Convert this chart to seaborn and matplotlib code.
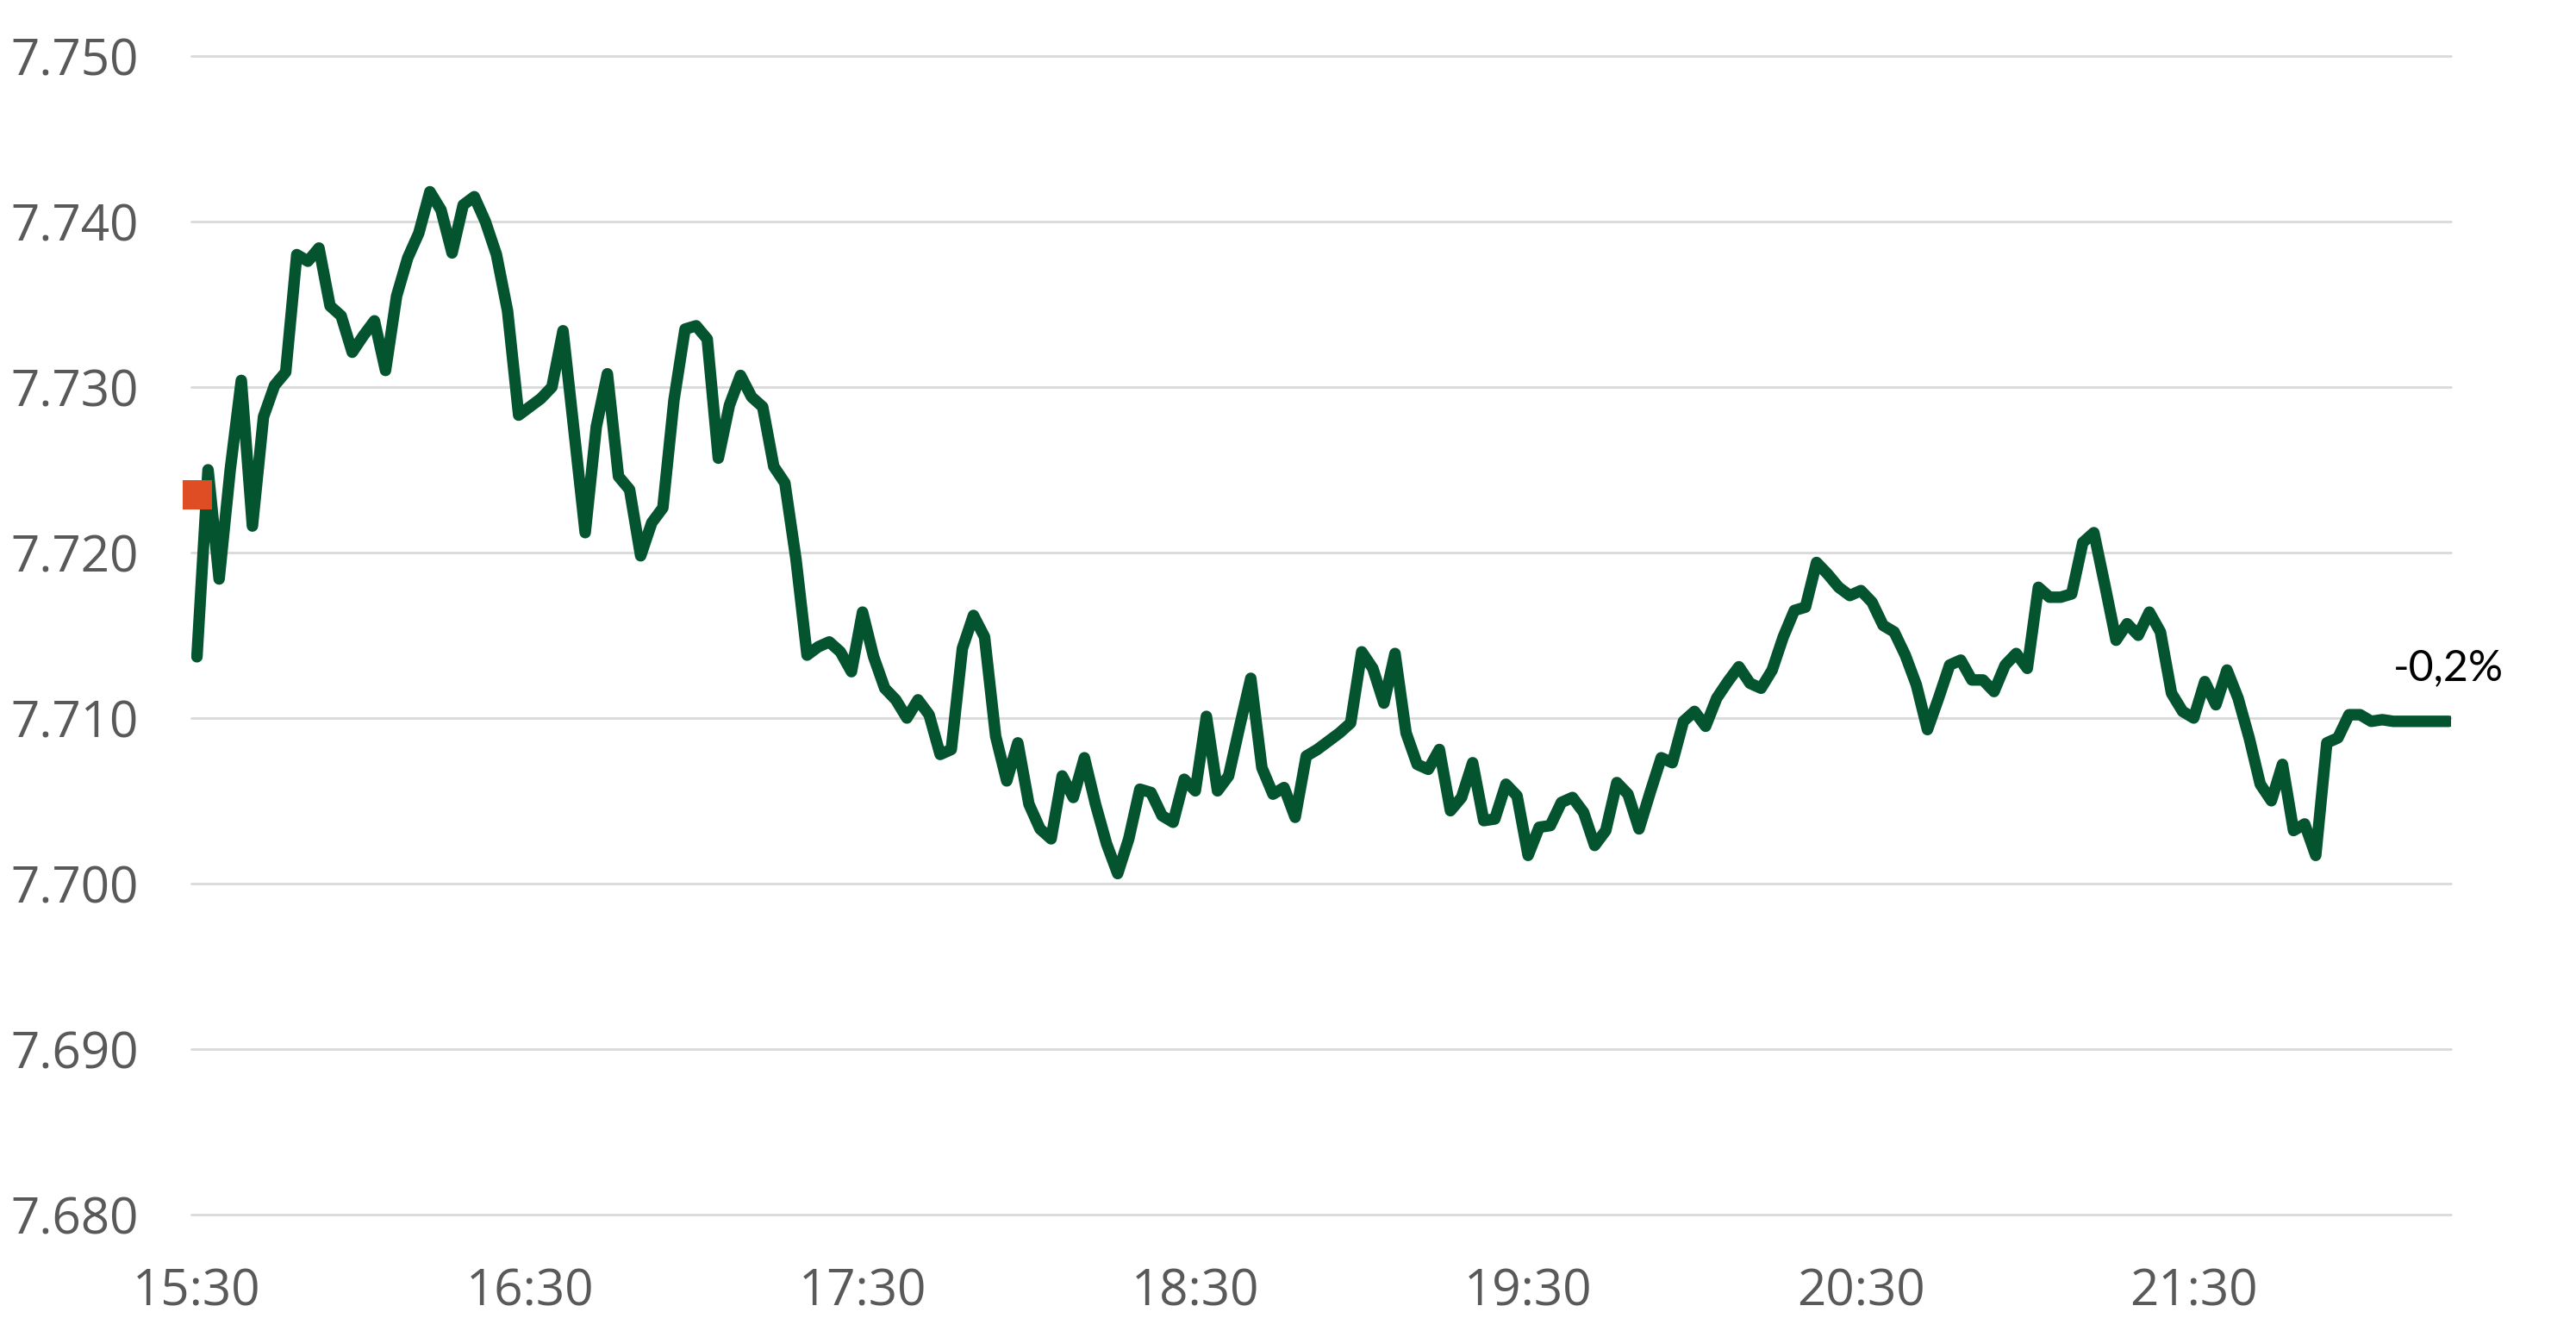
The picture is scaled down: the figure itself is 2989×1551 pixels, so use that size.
import numpy as np
import pandas as pd
import matplotlib
matplotlib.use("Agg")
import matplotlib.pyplot as plt
import matplotlib.dates as mdates
import seaborn as sns

# ---- data (2-minute prices from 15:30) ----
values = [
    7.7137, 7.7250, 7.7184, 7.7250, 7.7304, 7.7216, 7.7282, 7.7301, 7.7309, 7.7380,
    7.7376, 7.7384, 7.7349, 7.7343, 7.7321, 7.7331, 7.7340, 7.7310, 7.7355, 7.7378,
    7.7393, 7.7418, 7.7407, 7.7381, 7.7410, 7.7415, 7.7400, 7.7380, 7.7346, 7.7283,
    7.7288, 7.7293, 7.7300, 7.7334, 7.7273, 7.7212, 7.7276, 7.7308, 7.7246, 7.7238,
    7.7198, 7.7218, 7.7227, 7.7292, 7.7335, 7.7337, 7.7329, 7.7257, 7.7289, 7.7307,
    7.7294, 7.7288, 7.7252, 7.7242, 7.7196, 7.7138, 7.7143, 7.7146, 7.7140, 7.7128,
    7.7164, 7.7137, 7.7118, 7.7111, 7.7100, 7.7111, 7.7102, 7.7078, 7.7081, 7.7142,
    7.7162, 7.7149, 7.7089, 7.7062, 7.7085, 7.7048, 7.7033, 7.7027, 7.7065, 7.7052,
    7.7076, 7.7048, 7.7024, 7.7006, 7.7027, 7.7057, 7.7055, 7.7041, 7.7037, 7.7063,
    7.7056, 7.7101, 7.7056, 7.7065, 7.7095, 7.7124, 7.7070, 7.7054, 7.7058, 7.7040,
    7.7077, 7.7081, 7.7086, 7.7091, 7.7097, 7.7140, 7.7130, 7.7109, 7.7139, 7.7091,
    7.7072, 7.7069, 7.7081, 7.7044, 7.7052, 7.7073, 7.7038, 7.7039, 7.7060, 7.7053,
    7.7017, 7.7034, 7.7035, 7.7049, 7.7052, 7.7043, 7.7023, 7.7032, 7.7061, 7.7054,
    7.7033, 7.7055, 7.7076, 7.7073, 7.7098, 7.7104, 7.7095, 7.7112, 7.7122, 7.7131,
    7.7121, 7.7118, 7.7129, 7.7149, 7.7165, 7.7167, 7.7194, 7.7187, 7.7179, 7.7174,
    7.7177, 7.7170, 7.7156, 7.7152, 7.7138, 7.7120, 7.7093, 7.7112, 7.7132, 7.7135,
    7.7123, 7.7123, 7.7116, 7.7132, 7.7139, 7.7130, 7.7179, 7.7173, 7.7173, 7.7175,
    7.7206, 7.7212, 7.7180, 7.7147, 7.7157, 7.7150, 7.7164, 7.7152, 7.7115, 7.7104,
    7.7100, 7.7122, 7.7108, 7.7129, 7.7112, 7.7088, 7.7060, 7.7050, 7.7072, 7.7032,
    7.7036, 7.7017, 7.7085, 7.7088, 7.7102, 7.7102, 7.7098, 7.7099, 7.7098, 7.7098,
    7.7098, 7.7098, 7.7098, 7.7098,
]
start_time = "2024-01-02 15:30"
interval = "2min"
reference_value = 7.7235          # previous close marker
change_label = "-0,2%"
y_ticks = [7.680, 7.690, 7.700, 7.710, 7.720, 7.730, 7.740, 7.750]
x_tick_labels = ["15:30", "16:30", "17:30", "18:30", "19:30", "20:30", "21:30"]

# ---- style ----
sns.set_theme(style="white")
plt.rcParams['font.family'] = ['Open Sans', 'DejaVu Sans']

LINE = "#03542F"
MARK = "#DE4D24"
GRID = "#D9D9D9"
TICK = "#595959"

times = pd.date_range(start_time, periods=len(values), freq=interval)
df = pd.DataFrame({"time": times, "value": values})

fig = plt.figure(figsize=(29.89, 15.51), dpi=100)
fig.patch.set_facecolor("white")
ax = fig.add_axes([0.0743, 0.0916, 0.8772, 0.8665])
ax.set_facecolor("white")

for yt in y_ticks:
    ax.axhline(yt, color=GRID, lw=2.0, zorder=0, clip_on=False)

sns.lineplot(data=df, x="time", y="value", ax=ax, color=LINE, linewidth=9.6,
             solid_capstyle="round", solid_joinstyle="round", zorder=3)

ax.plot([times[0]], [reference_value], linestyle="none", marker="s",
        markersize=24.5, markerfacecolor=MARK, markeredgewidth=0,
        zorder=5, clip_on=False)

ax.set_ylim(y_ticks[0], y_ticks[-1])
ax.set_xlim(times[0] - pd.Timedelta(minutes=1.0), times[-1] + pd.Timedelta(minutes=0.4))

ax.set_yticks(y_ticks)
ax.set_yticklabels([f"{v:.3f}" for v in y_ticks])
tick_times = [pd.Timestamp(start_time[:11] + t) for t in x_tick_labels]
ax.set_xticks(tick_times)
ax.set_xticklabels(x_tick_labels)

ax.tick_params(axis="y", length=0, labelsize=42, labelcolor=TICK, pad=44)
ax.tick_params(axis="x", length=0, labelsize=42, labelcolor=TICK, pad=44)
ax.set_xlabel("")
ax.set_ylabel("")
ax.grid(False)
sns.despine(ax=ax, left=True, bottom=True, top=True, right=True)

ax.annotate(change_label, xy=(times[-1], values[-1]), xytext=(-46.8, 34),
            textcoords="offset points", ha="left", va="baseline",
            fontsize=36, color="black", family=["Lato", "DejaVu Sans"],
            annotation_clip=False)

fig.savefig("out.png", dpi=100, facecolor="white")
